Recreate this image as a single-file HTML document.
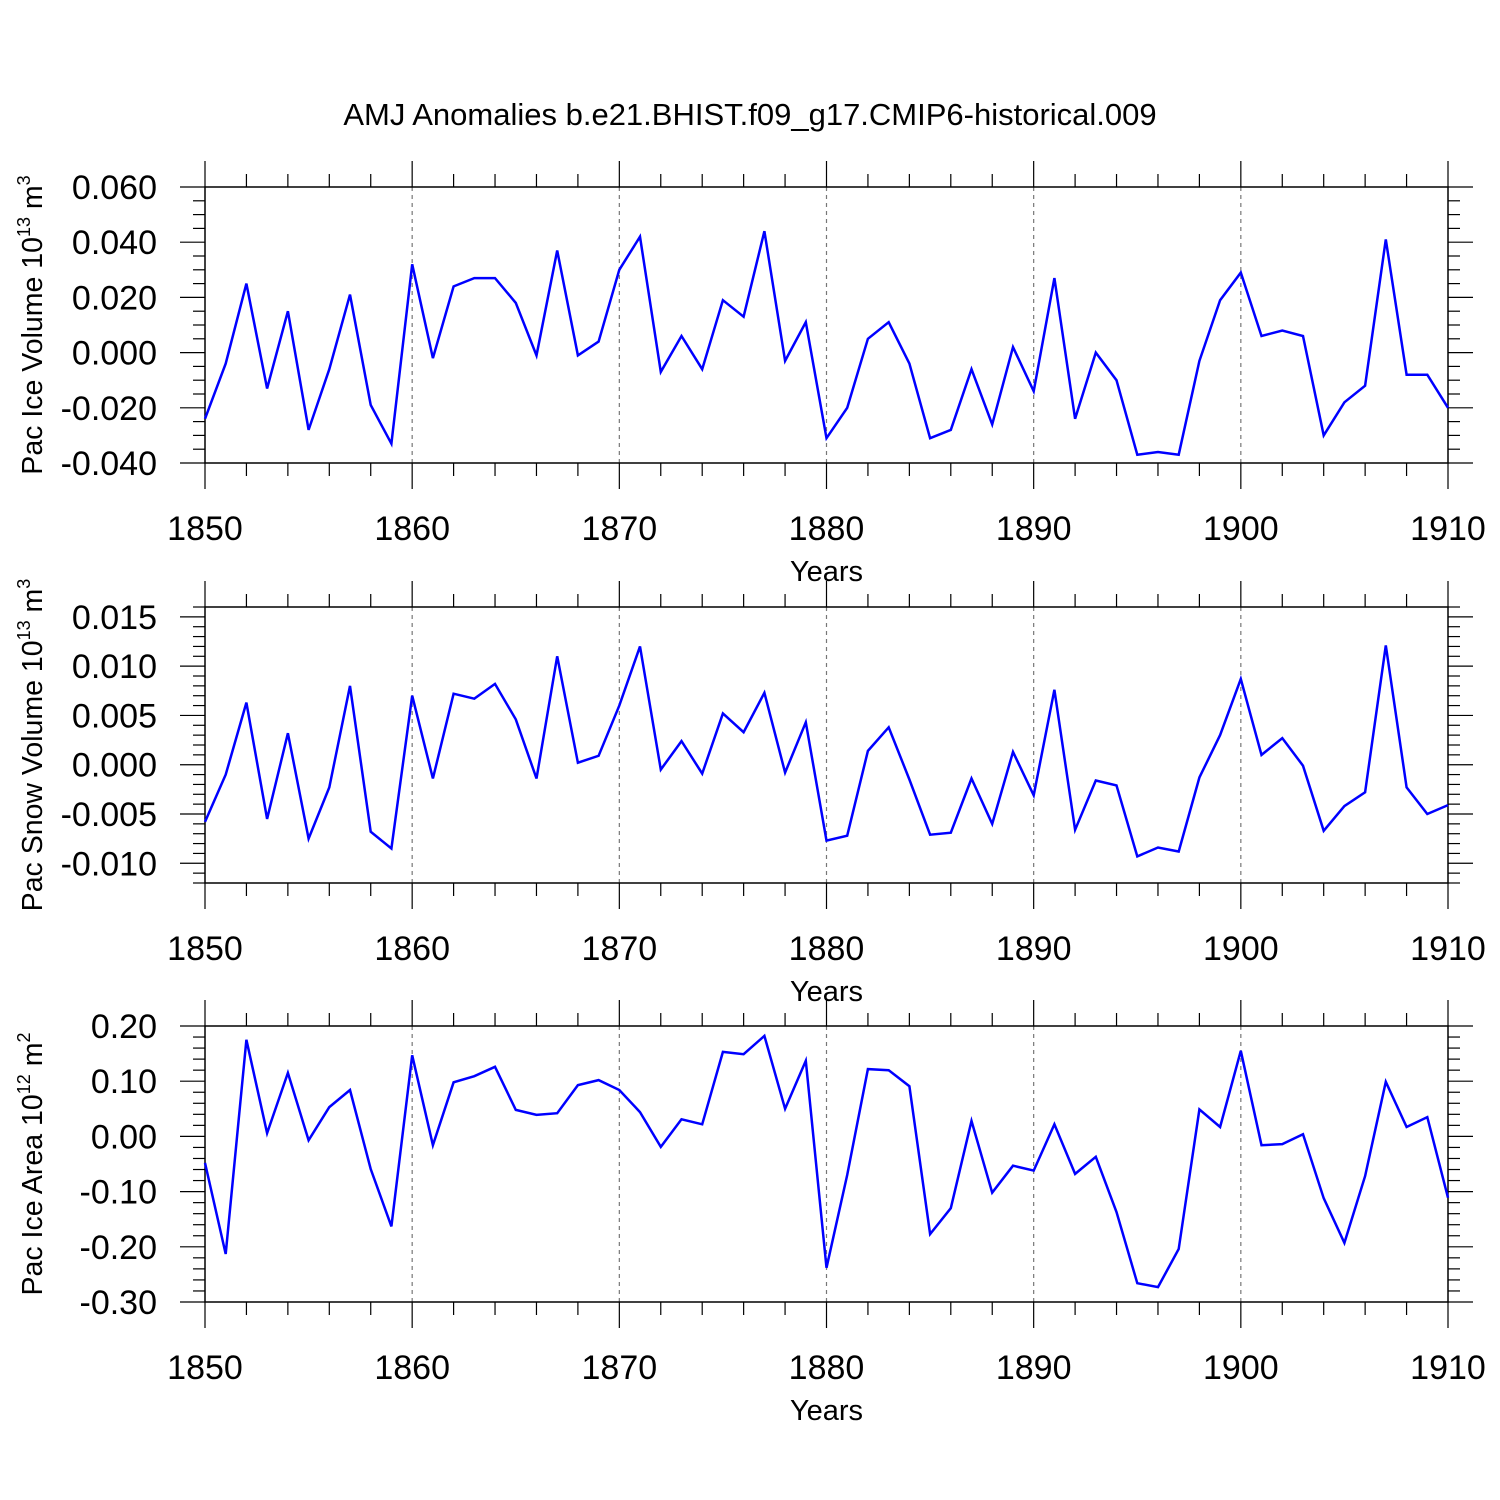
<!DOCTYPE html>
<html><head><meta charset="utf-8"><style>
html,body{margin:0;padding:0;background:#fff;}
svg{display:block;font-family:"Liberation Sans",Arial,sans-serif;}
</style></head><body>
<svg id="chart" width="1500" height="1500" viewBox="0 0 1500 1500" xmlns="http://www.w3.org/2000/svg">
<rect width="1500" height="1500" fill="#fff"/>
<text x="750" y="125" font-size="31" text-anchor="middle">AMJ Anomalies b.e21.BHIST.f09_g17.CMIP6-historical.009</text>
</svg>
<script>
const years = [];
for (let y = 1850; y <= 1910; y++) years.push(y);
const iceVolume = [-0.024,-0.004,0.025,-0.013,0.015,-0.028,-0.006,0.021,-0.019,-0.033,
0.032,-0.002,0.024,0.027,0.027,0.018,-0.001,0.037,-0.001,0.004,
0.030,0.042,-0.007,0.006,-0.006,0.019,0.013,0.044,-0.003,0.011,
-0.031,-0.020,0.005,0.011,-0.004,-0.031,-0.028,-0.006,-0.026,0.002,
-0.014,0.027,-0.024,0.000,-0.010,-0.037,-0.036,-0.037,-0.003,0.019,
0.029,0.006,0.008,0.006,-0.030,-0.018,-0.012,0.041,-0.008,-0.008,-0.020];
const snowVolume = [-0.0058,-0.0010,0.0063,-0.0055,0.0032,-0.0075,-0.0023,0.0080,-0.0068,-0.0085,
0.0070,-0.0014,0.0072,0.0067,0.0082,0.0046,-0.0014,0.0110,0.0002,0.0009,
0.0060,0.0120,-0.0005,0.0024,-0.0009,0.0052,0.0033,0.0073,-0.0008,0.0043,
-0.0077,-0.0072,0.0014,0.0038,-0.0015,-0.0071,-0.0069,-0.0014,-0.0060,0.0013,
-0.0031,0.0076,-0.0066,-0.0016,-0.0021,-0.0093,-0.0084,-0.0088,-0.0013,0.0030,
0.0087,0.0010,0.0027,-0.0001,-0.0067,-0.0042,-0.0028,0.0121,-0.0023,-0.0050,-0.0041];
const iceArea = [-0.048,-0.213,0.175,0.006,0.115,-0.007,0.053,0.084,-0.059,-0.163,
0.147,-0.016,0.098,0.109,0.126,0.048,0.039,0.042,0.093,0.102,
0.084,0.044,-0.019,0.031,0.022,0.153,0.149,0.182,0.050,0.137,
-0.238,-0.070,0.122,0.120,0.091,-0.177,-0.130,0.028,-0.102,-0.053,
-0.062,0.022,-0.068,-0.037,-0.137,-0.266,-0.273,-0.204,0.049,0.017,
0.155,-0.016,-0.014,0.004,-0.112,-0.193,-0.072,0.099,0.017,0.035,-0.111];
const xTicks = [1850,1860,1870,1880,1890,1900,1910];
const iceVolTicks = [0.06,0.04,0.02,0,-0.02,-0.04];
const snowTicks = [0.015,0.01,0.005,0,-0.005,-0.01];
const areaTicks = [0.2,0.1,0,-0.1,-0.2,-0.3];

const svg = document.getElementById('chart');
const NS = 'http://www.w3.org/2000/svg';
function mk(tag, attrs, parent){const e=document.createElementNS(NS,tag);for(const k in attrs)e.setAttribute(k,attrs[k]);(parent||svg).appendChild(e);return e;}
const X0=205,X1=1448,XMIN=1850,XMAX=1910;
const xs = v => X0+(v-XMIN)/(XMAX-XMIN)*(X1-X0);

function panel(name, top, ymin, ymax, data, ticks, dec, minorStep, labelMain, sup, unit) {
  const bot = top+276;
  const ys = v => bot-(v-ymin)/(ymax-ymin)*(bot-top);
  const g = mk('g',{});
  
  
  for (const t of xTicks) {
    if (t===XMIN||t===XMAX) continue;
    const l = mk('line',{x1:xs(t),x2:xs(t),y1:top,y2:bot,stroke:'#777','stroke-width':1.2,'stroke-dasharray':'4,4'},g);
    
    
  }
  mk('rect',{x:X0,y:top,width:X1-X0,height:bot-top,fill:'none',stroke:'#000','stroke-width':1.5},g);
  for (let yr=XMIN; yr<=XMAX; yr+=2) {
    const major = (yr%10===0); const L = major?26:13;
    mk('line',{x1:xs(yr),x2:xs(yr),y1:top,y2:top-L,stroke:'#000','stroke-width':1.2},g);
    mk('line',{x1:xs(yr),x2:xs(yr),y1:bot,y2:bot+L,stroke:'#000','stroke-width':1.2},g);
  }
  for (const t of xTicks) {
    const tx = mk('text',{x:xs(t),y:bot+77,'font-size':34,'text-anchor':'middle'},g);
    tx.textContent = t;
    
    
  }
  const xt = mk('text',{x:(X0+X1)/2,y:bot+118,'font-size':29,'text-anchor':'middle'},g);
  xt.textContent='Years';
  
  
  const n = Math.round((ymax-ymin)/minorStep);
  for (let i=0;i<=n;i++){
    const v = ymin+i*minorStep;
    const major = ticks.some(t=>Math.abs(t-v)<minorStep/10);
    const L = major?25:12;
    mk('line',{x1:X0,x2:X0-L,y1:ys(v),y2:ys(v),stroke:'#000','stroke-width':1.2},g);
    mk('line',{x1:X1,x2:X1+L,y1:ys(v),y2:ys(v),stroke:'#000','stroke-width':1.2},g);
  }
  for (const t of ticks) {
    const tx = mk('text',{x:157,y:ys(t)+12,'font-size':34,'text-anchor':'end'},g);
    tx.textContent = t.toFixed(dec);
    
    
  }
  const yt = mk('text',{x:0,y:0,'font-size':28.5,'text-anchor':'middle',transform:`translate(42,${(top+bot)/2}) rotate(-90)`},g);
  
  
  const t1 = mk('tspan',{},yt); t1.textContent = labelMain+' 10';
  const t2 = mk('tspan',{dy:-12,'font-size':18},yt); t2.textContent = sup;
  const t3 = mk('tspan',{dy:12},yt); t3.textContent = ' m';
  const t4 = mk('tspan',{dy:-12,'font-size':18},yt); t4.textContent = unit;
  const pts = data.map((v,i)=>xs(years[i]).toFixed(1)+','+ys(v).toFixed(1)).join(' ');
  const pl = mk('polyline',{points:pts,fill:'none',stroke:'#0000ff','stroke-width':2.5,'stroke-linejoin':'miter'},g);
  
  
}
panel('ice-volume',187,-0.04,0.06,iceVolume,iceVolTicks,3,0.005,'Pac Ice Volume','13','3');
panel('snow-volume',607,-0.012,0.016,snowVolume,snowTicks,3,0.001,'Pac Snow Volume','13','3');
panel('ice-area',1026,-0.3,0.2,iceArea,areaTicks,2,0.02,'Pac Ice Area','12','2');
</script>
</body></html>
